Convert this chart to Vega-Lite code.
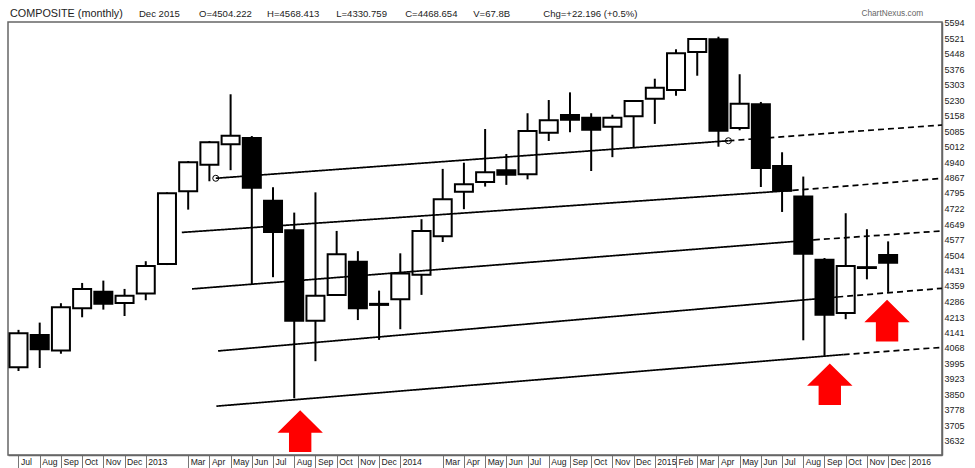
{
"$schema":"https://vega.github.io/schema/vega-lite/v6.json",
"width":934,"height":433,
"autosize":{"type":"none"},
"padding":{"left":8,"top":22,"right":33,"bottom":13},
"background":"white",
"config":{"view":{"stroke":"#666666","strokeWidth":1.5},"font":"Liberation Sans","axis":{"labelOverlap":false}},
"datasets":{
"candles":[
{"t":0,"dir":"up","open":3978,"high":4153,"low":3960,"close":4137},
{"t":1,"dir":"down","open":4129,"high":4187,"low":3974,"close":4062},
{"t":2,"dir":"up","open":4056,"high":4278,"low":4041,"close":4259},
{"t":3,"dir":"up","open":4254,"high":4373,"low":4212,"close":4345},
{"t":4,"dir":"down","open":4332,"high":4384,"low":4248,"close":4275},
{"t":5,"dir":"up","open":4279,"high":4345,"low":4218,"close":4313},
{"t":6,"dir":"up","open":4323,"high":4475,"low":4292,"close":4453},
{"t":7,"dir":"up","open":4462,"high":4798,"low":4457,"close":4794},
{"t":8,"dir":"up","open":4803,"high":4945,"low":4717,"close":4939},
{"t":9,"dir":"up","open":4928,"high":5039,"low":4850,"close":5033},
{"t":10,"dir":"up","open":5024,"high":5258,"low":4902,"close":5064},
{"t":11,"dir":"down","open":5053,"high":5062,"low":4368,"close":4820},
{"t":12,"dir":"down","open":4758,"high":4822,"low":4400,"close":4612},
{"t":13,"dir":"down","open":4620,"high":4703,"low":3832,"close":4196},
{"t":14,"dir":"up","open":4196,"high":4798,"low":4006,"close":4313},
{"t":15,"dir":"up","open":4317,"high":4617,"low":4312,"close":4508},
{"t":16,"dir":"down","open":4473,"high":4522,"low":4199,"close":4254},
{"t":17,"dir":"down","open":4275,"high":4337,"low":4106,"close":4270},
{"t":18,"dir":"up","open":4297,"high":4512,"low":4156,"close":4417},
{"t":19,"dir":"up","open":4411,"high":4672,"low":4317,"close":4617},
{"t":20,"dir":"up","open":4592,"high":4908,"low":4565,"close":4766},
{"t":21,"dir":"up","open":4801,"high":4937,"low":4719,"close":4836},
{"t":22,"dir":"up","open":4847,"high":5095,"low":4825,"close":4892},
{"t":23,"dir":"down","open":4902,"high":4978,"low":4833,"close":4881},
{"t":24,"dir":"up","open":4883,"high":5169,"low":4859,"close":5086},
{"t":25,"dir":"up","open":5078,"high":5231,"low":5039,"close":5136},
{"t":26,"dir":"down","open":5161,"high":5267,"low":5080,"close":5139},
{"t":27,"dir":"down","open":5148,"high":5169,"low":4898,"close":5092},
{"t":28,"dir":"up","open":5106,"high":5162,"low":4963,"close":5148},
{"t":29,"dir":"up","open":5155,"high":5231,"low":5005,"close":5227},
{"t":30,"dir":"up","open":5237,"high":5331,"low":5119,"close":5289},
{"t":31,"dir":"up","open":5278,"high":5469,"low":5251,"close":5450},
{"t":32,"dir":"up","open":5456,"high":5522,"low":5345,"close":5517},
{"t":33,"dir":"down","open":5516,"high":5528,"low":5012,"close":5087},
{"t":34,"dir":"up","open":5100,"high":5352,"low":5089,"close":5214},
{"t":35,"dir":"down","open":5211,"high":5222,"low":4823,"close":4912},
{"t":36,"dir":"down","open":4922,"high":4986,"low":4706,"close":4806},
{"t":37,"dir":"down","open":4778,"high":4872,"low":4104,"close":4510},
{"t":38,"dir":"down","open":4482,"high":4490,"low":4031,"close":4224},
{"t":39,"dir":"up","open":4232,"high":4700,"low":4203,"close":4453},
{"t":40,"dir":"down","open":4447,"high":4625,"low":4390,"close":4443},
{"t":41,"dir":"down","open":4504,"high":4568,"low":4331,"close":4468}
],
"channels":[
{"line":"A","seg":"solid","t":9.3,"v":4864},{"line":"A","seg":"solid","t":33.47,"v":5040},
{"line":"A","seg":"dashed","t":33.47,"v":5040},{"line":"A","seg":"dashed","t":43.54,"v":5114},
{"line":"B","seg":"solid","t":7.7,"v":4610},{"line":"B","seg":"solid","t":36.5,"v":4807},
{"line":"B","seg":"dashed","t":36.5,"v":4807},{"line":"B","seg":"dashed","t":43.54,"v":4864},
{"line":"C","seg":"solid","t":8.18,"v":4345},{"line":"C","seg":"solid","t":37.5,"v":4575},
{"line":"C","seg":"dashed","t":37.5,"v":4575},{"line":"C","seg":"dashed","t":43.54,"v":4617},
{"line":"D","seg":"solid","t":9.41,"v":4054},{"line":"D","seg":"solid","t":38.6,"v":4307},
{"line":"D","seg":"dashed","t":38.6,"v":4307},{"line":"D","seg":"dashed","t":43.54,"v":4348},
{"line":"E","seg":"solid","t":9.33,"v":3795},{"line":"E","seg":"solid","t":38.9,"v":4037},
{"line":"E","seg":"dashed","t":38.9,"v":4037},{"line":"E","seg":"dashed","t":43.54,"v":4071}
],
"anchors":[{"t":9.3,"v":4864},{"t":33.47,"v":5040}],
"arrows":[{"t":13.28,"v":3678},{"t":38.25,"v":3898},{"t":40.95,"v":4196}],
"header":[
{"label":"COMPOSITE (monthly)","t":-0.4,"v":5635,"kind":"title"},
{"label":"Dec 2015","t":5.68,"v":5635,"kind":"info"},
{"label":"O=4504.222","t":8.51,"v":5635,"kind":"info"},
{"label":"H=4568.413","t":11.72,"v":5635,"kind":"info"},
{"label":"L=4330.759","t":14.98,"v":5635,"kind":"info"},
{"label":"C=4468.654","t":18.23,"v":5635,"kind":"info"},
{"label":"V=67.8B","t":21.44,"v":5635,"kind":"info"},
{"label":"Chg=+22.196 (+0.5%)","t":24.74,"v":5635,"kind":"info"},
{"label":"ChartNexus.com","t":39.74,"v":5635,"kind":"brand"}
]
},
"layer":[
{"data":{"name":"candles"},"mark":{"type":"rule","strokeWidth":2,"color":"black"},
 "encoding":{
  "x":{"field":"t","type":"quantitative","scale":{"domain":[-0.495,43.54],"nice":false,"zero":false,"padding":0},
   "axis":{"title":null,"grid":false,"orient":"bottom","tickCount":60,
    "values":[0,1,2,3,4,5,6,8,9,10,11,12,13,14,15,16,17,18,20,21,22,23,24,25,26,27,28,29,30,31,32,33,34,35,36,37,38,39,40,41,42],
    "labelExpr":"['Jul','Aug','Sep','Oct','Nov','Dec','2013','','Mar','Apr','May','Jun','Jul','Aug','Sep','Oct','Nov','Dec','2014','','Mar','Apr','May','Jun','Jul','Aug','Sep','Oct','Nov','Dec','2015','Feb','Mar','Apr','May','Jun','Jul','Aug','Sep','Oct','Nov','Dec','2016'][datum.value]",
    "tickSize":13,"tickColor":"#777777","domainColor":"#666666","domainWidth":1.5,
    "labelAlign":"left","labelBaseline":"middle","labelPadding":-7,"labelOffset":2,"labelOverlap":false,"labelFlush":false,
    "labelFontSize":8.6,"labelColor":"#222222","labelFont":"Liberation Sans"}},
  "y":{"field":"high","type":"quantitative","scale":{"domain":[3566,5597],"nice":false,"zero":false,"padding":0},
   "axis":{"title":null,"grid":false,"orient":"right","tickCount":60,
    "values":[3632,3705,3778,3850,3923,3995,4068,4141,4213,4286,4359,4431,4504,4577,4649,4722,4795,4867,4940,5012,5085,5158,5230,5303,5376,5448,5521,5594],
    "format":"d","ticks":false,"domainColor":"#666666","domainWidth":1.5,"labelPadding":2,"labelOverlap":false,"labelFlush":false,
    "labelFontSize":9,"labelColor":"#222222","labelFont":"Liberation Sans"}},
  "y2":{"field":"low"}}},
{"data":{"name":"candles"},"mark":{"type":"bar","orient":"vertical","size":18,"stroke":"black","strokeWidth":2},
 "encoding":{
  "x":{"field":"t","type":"quantitative"},
  "y":{"field":"open","type":"quantitative"},
  "y2":{"field":"close"},
  "fill":{"field":"dir","type":"nominal","scale":{"domain":["up","down"],"range":["white","black"]},"legend":null}}},
{"data":{"name":"channels"},"mark":{"type":"line","color":"black","strokeWidth":1.7},
 "encoding":{
  "x":{"field":"t","type":"quantitative"},
  "y":{"field":"v","type":"quantitative"},
  "detail":{"field":"line"},
  "strokeDash":{"field":"seg","type":"nominal","scale":{"domain":["solid","dashed"],"range":[[1,0],[6,4]]},"legend":null}}},
{"data":{"name":"anchors"},"mark":{"type":"point","shape":"circle","size":36,"color":"black","strokeWidth":1,"filled":false,"opacity":1},
 "encoding":{"x":{"field":"t","type":"quantitative"},"y":{"field":"v","type":"quantitative"}}},
{"data":{"name":"arrows"},"mark":{"type":"point","filled":true,"opacity":1,"color":"#ff0000","strokeWidth":0,"size":2061,
  "shape":"M0,-0.918 L1,0.069 L0.493,0.069 L0.493,0.918 L-0.493,0.918 L-0.493,0.069 L-1,0.069 Z"},
 "encoding":{"x":{"field":"t","type":"quantitative"},"y":{"field":"v","type":"quantitative"}}},
{"data":{"name":"header"},"mark":{"type":"text","align":"left","baseline":"middle","font":"Liberation Sans","clip":false},
 "encoding":{"x":{"field":"t","type":"quantitative"},"y":{"field":"v","type":"quantitative"},
  "text":{"field":"label"},
  "size":{"field":"kind","type":"nominal","scale":{"domain":["title","info","brand"],"range":[10.8,8.3,9]},"legend":null},
  "color":{"field":"kind","type":"nominal","scale":{"domain":["title","info","brand"],"range":["#222222","#222222","#666666"]},"legend":null}}}
]
}
